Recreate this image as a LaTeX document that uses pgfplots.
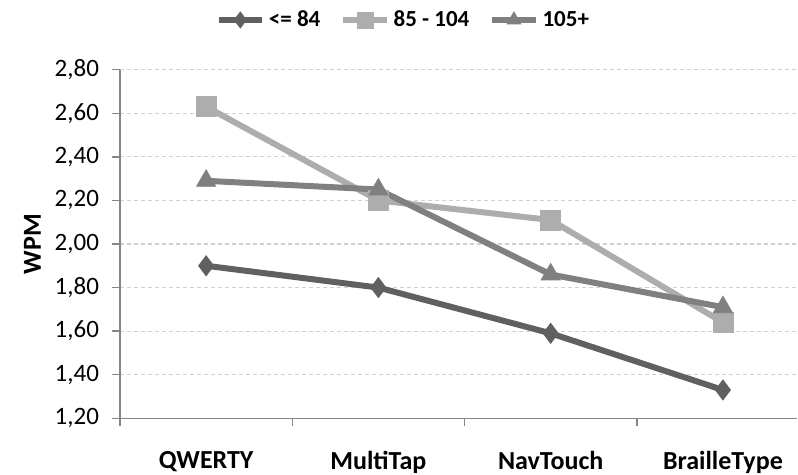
\documentclass[border=0pt]{standalone}
\usepackage{fontspec}
\setmainfont{Carlito}
\usepackage{pgfplots}
\pgfplotsset{compat=1.18}
\definecolor{cA}{HTML}{606060}
\definecolor{cB}{HTML}{ADADAD}
\definecolor{cC}{HTML}{808080}
\definecolor{axisgray}{HTML}{868686}
\definecolor{gridgray}{HTML}{D0D0D0}
\begin{document}
\begin{tikzpicture}
\useasboundingbox (-60pt,-28.35pt) rectangle (339pt,209.15pt);
\begin{axis}[
  scale only axis, width=338.5pt, height=174.3pt,
  xmin=-0.5, xmax=3.43, ymin=1.2, ymax=2.8,
  axis lines=left,
  axis line style={axisgray, line width=0.75pt, -},
  tick style={axisgray, line width=0.75pt},
  tick align=outside, major tick length=4pt,
  ytick={1.2,1.4,1.6,1.8,2.0,2.2,2.4,2.6,2.8},
  yticklabel style={font=\fontsize{12.5}{14}\selectfont, text=black, xshift=-3pt},
  /pgf/number format/.cd, fixed, fixed zerofill, precision=2, use comma, assume math mode=true,
  /pgfplots/.cd,
  ymajorgrids,
  grid style={gridgray, line width=0.6pt, dash pattern=on 2pt off 1.5pt},
  xtick={-0.5,0.5,1.5,2.5},
  xticklabels={},
  extra x ticks={0,1,2,3},
  extra x tick labels={QWERTY,MultiTap,NavTouch,BrailleType},
  extra x tick style={major tick length=0pt, grid=none,
     xticklabel style={font=\fontsize{13}{15}\selectfont\bfseries, text=black, yshift=-13pt}},
  ylabel={WPM},
  ylabel style={font=\fontsize{13}{15}\selectfont\bfseries, text=black},
  legend columns=3,
  legend style={at={(0.42,1.1426)}, anchor=center, draw=none, fill=none,
     font=\fontsize{11.5}{13}\selectfont\bfseries,
     /tikz/every even column/.append style={column sep=8pt}},
  legend image code/.code={\draw[mark repeat=2,mark phase=2, mark size=4pt] plot coordinates {(0cm,0cm)(0.38cm,0cm)(0.76cm,0cm)};},
  every axis plot/.append style={line width=3pt},
]
\addplot[cA, mark=diamond*, mark size=5pt, mark options={line width=0.4pt}] coordinates {(0,1.90) (1,1.80) (2,1.59) (3,1.33)};
\addlegendentry{<= 84}
\addplot[cB, mark=square*, mark size=5pt, mark options={line width=0.4pt}] coordinates {(0,2.63) (1,2.20) (2,2.11) (3,1.64)};
\addlegendentry{85 - 104}
\addplot[cC, mark=triangle*, mark size=5.5pt, mark options={line width=0.4pt}] coordinates {(0,2.29) (1,2.25) (2,1.86) (3,1.71)};
\addlegendentry{105+}
\end{axis}
\end{tikzpicture}
\end{document}
